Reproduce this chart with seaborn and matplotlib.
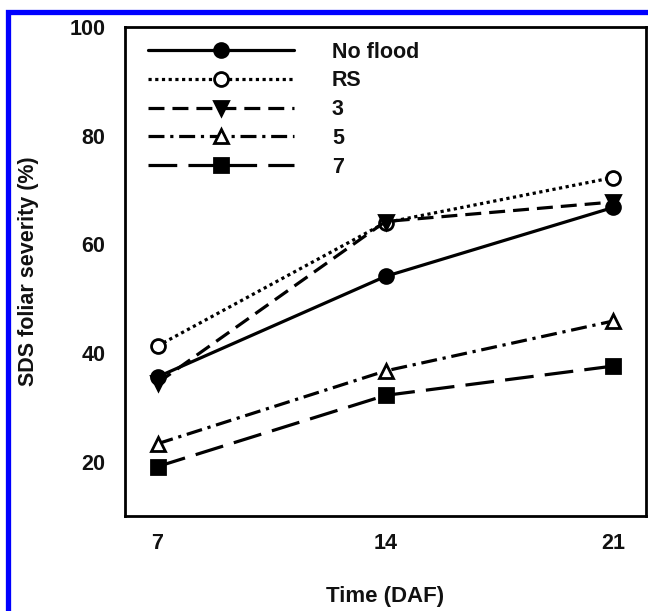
import matplotlib
matplotlib.use("Agg")
import matplotlib.pyplot as plt
from matplotlib.patches import Rectangle
import seaborn as sns
import pandas as pd

days = [7, 14, 21]
no_flood = [35.6, 54.1, 66.8]
rs = [41.3, 64.0, 72.3]
flood3 = [34.5, 64.2, 67.8]
flood5 = [23.3, 36.7, 45.9]
flood7 = [19.1, 32.2, 37.6]
series_names = ["No flood", "RS", "3", "5", "7"]
y_ticks = [20, 40, 60, 80, 100]
x_ticks = [7, 14, 21]

sns.set_theme(style="white")
plt.rcParams["font.family"] = ["Liberation Sans", "DejaVu Sans"]
plt.rcParams["font.weight"] = "bold"

frames = []
for name, vals in zip(series_names, [no_flood, rs, flood3, flood5, flood7]):
    frames.append(pd.DataFrame({"day": days, "sev": vals, "group": name}))
df = pd.concat(frames, ignore_index=True)

styles = {
    "No flood": dict(marker="o", mfc="black", ls="-"),
    "RS": dict(marker="o", mfc="white", ls=(0, (1, 1.1))),
    "3": dict(marker="v", mfc="black", ls=(0, (5, 2.5))),
    "5": dict(marker="^", mfc="white", ls=(0, (5, 1.8, 1, 1.8))),
    "7": dict(marker="s", mfc="black", ls=(0, (9, 3.5))),
}

fig = plt.figure(figsize=(6.48, 6.11), dpi=100)
ax = fig.add_axes([125 / 648, 1 - 516 / 611, 521 / 648, 489 / 611])

for name in series_names:
    st = styles[name]
    sub = df[df["group"] == name]
    sns.lineplot(data=sub, x="day", y="sev", ax=ax, color="black",
                 marker=st["marker"], markerfacecolor=st["mfc"],
                 markeredgecolor="black", markeredgewidth=2.0,
                 markersize=10 if st["marker"] != "s" else 9.5,
                 linestyle=st["ls"], linewidth=2.3, label=name,
                 errorbar=None)

ax.set_xlim(6, 22)
ax.set_ylim(10, 100)
ax.set_xticks(x_ticks)
ax.set_yticks(y_ticks)
ax.set_xticklabels([str(v) for v in x_ticks], fontsize=15.5, fontweight="bold")
ax.set_yticklabels([str(v) for v in y_ticks], fontsize=15.5, fontweight="bold")
ax.tick_params(axis="x", direction="in", length=6, width=1.8, pad=12, colors="black")
ax.tick_params(axis="y", direction="out", length=6, width=1.8, pad=8, colors="black")
ax.tick_params(axis="both", labelcolor="#111111")
for sp in ax.spines.values():
    sp.set_visible(True)
    sp.set_color("black")
    sp.set_linewidth(2.0)

ax.set_xlabel("Time (DAF)", fontsize=16, fontweight="bold", labelpad=23, color="#111111")
ax.set_ylabel("SDS foliar severity (%)", fontsize=15.5, fontweight="bold", labelpad=22, color="#111111")

leg = ax.legend(loc="upper left", bbox_to_anchor=(0.044, 0.970), frameon=False,
                handlelength=6.8, handletextpad=1.75, labelspacing=0.36,
                borderaxespad=0, borderpad=0, fontsize=15.5, numpoints=1)
for t in leg.get_texts():
    t.set_fontweight("bold")
    t.set_color("#111111")

fig.add_artist(Rectangle((7.5 / 648, -0.1), 1.2, 1.1 - 11.5 / 611,
                         transform=fig.transFigure, fill=False,
                         edgecolor="#0000ff", linewidth=3.8))

fig.savefig("out.png", dpi=100)
